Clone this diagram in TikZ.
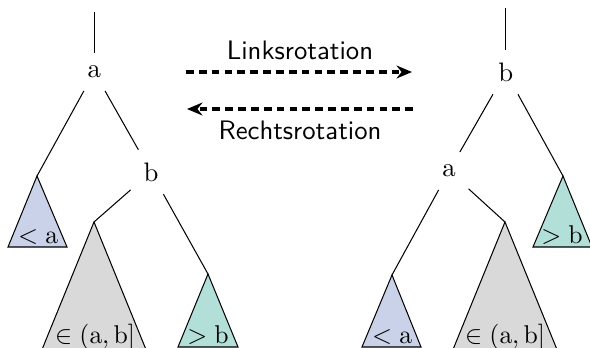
\documentclass[tikz,border=0pt]{standalone}
\usetikzlibrary{arrows.meta}
\definecolor{tblue}{RGB}{201,210,232}
\definecolor{tteal}{RGB}{178,224,217}
\definecolor{tgray}{RGB}{217,217,217}
\begin{document}
\begin{tikzpicture}[x=0.389pt,y=-0.389pt,
  font=\fontsize{10.4}{12.5}\selectfont,
  key/.style={inner sep=3pt, outer sep=2pt},
  edge/.style={line width=0.4pt},
  tri/.style={draw, line width=0.4pt},
  tlabel/.style={anchor=base, inner sep=0pt},
  rot/.style={very thick, dash pattern=on 3pt off 2pt, -{Stealth[length=6pt,width=5pt]}},
  rotlabel/.style={font=\fontsize{10.4}{12.5}\selectfont\sffamily}]
\clip (0,0) rectangle (590,348);
% ---------- left tree ----------
\coordinate (Ltop) at (94.3,12);
\node[key] (La) at (94.3,72) {a};
\node[key] (Lb) at (151,172) {b};
\coordinate (Lblue) at (37,176);
\coordinate (Lgray) at (94,222);
\coordinate (Lteal) at (208,274);
\draw[edge] (Ltop) -- (La.north);
\draw[edge] (La) -- (Lblue);
\draw[edge] (La) -- (Lb);
\draw[edge] (Lb) -- (Lgray);
\draw[edge] (Lb) -- (Lteal);
\filldraw[tri, fill=tblue] (Lblue) -- (8,247) -- (67,247) -- cycle;
\filldraw[tri, fill=tgray] (Lgray) -- (41,352) -- (147,352) -- cycle;
\filldraw[tri, fill=tteal] (Lteal) -- (178,347) -- (238,347) -- cycle;
\node[tlabel] (Llt) at (38,243) {$<\mathrm{a}$};
\node[tlabel] (Lin) at (95,343) {$\in(\mathrm{a},\mathrm{b}]$};
\node[tlabel] (Lgt) at (208,343) {$>\mathrm{b}$};
% ---------- right tree ----------
\coordinate (Rtop) at (505.7,8);
\node[key] (Rb) at (505.7,72) {b};
\node[key] (Ra) at (449,171) {a};
\coordinate (Rteal) at (563,176);
\coordinate (Rblue) at (392,275);
\coordinate (Rgray) at (505,222);
\draw[edge] (Rtop) -- (Rb.north);
\draw[edge] (Rb) -- (Ra);
\draw[edge] (Rb) -- (Rteal);
\draw[edge] (Ra) -- (Rblue);
\draw[edge] (Ra) -- (Rgray);
\filldraw[tri, fill=tteal] (Rteal) -- (533,247) -- (592,247) -- cycle;
\filldraw[tri, fill=tblue] (Rblue) -- (362,347) -- (421,347) -- cycle;
\filldraw[tri, fill=tgray] (Rgray) -- (452,352) -- (558,352) -- cycle;
\node[tlabel] (Rgt) at (562,243) {$>\mathrm{b}$};
\node[tlabel] (Rlt) at (392,343) {$<\mathrm{a}$};
\node[tlabel] (Rin) at (505,343) {$\in(\mathrm{a},\mathrm{b}]$};
% ---------- rotation arrows ----------
\coordinate (A1s) at (186,72);
\coordinate (A1e) at (412,72);
\coordinate (A2s) at (413,109);
\coordinate (A2e) at (187,109);
\draw[rot] (A1s) -- (A1e);
\draw[rot] (A2s) -- (A2e);
\node[rotlabel] (LR) at (300,50) {Linksrotation};
\node[rotlabel] (RR) at (300,130) {Rechtsrotation};
\end{tikzpicture}
\end{document}
